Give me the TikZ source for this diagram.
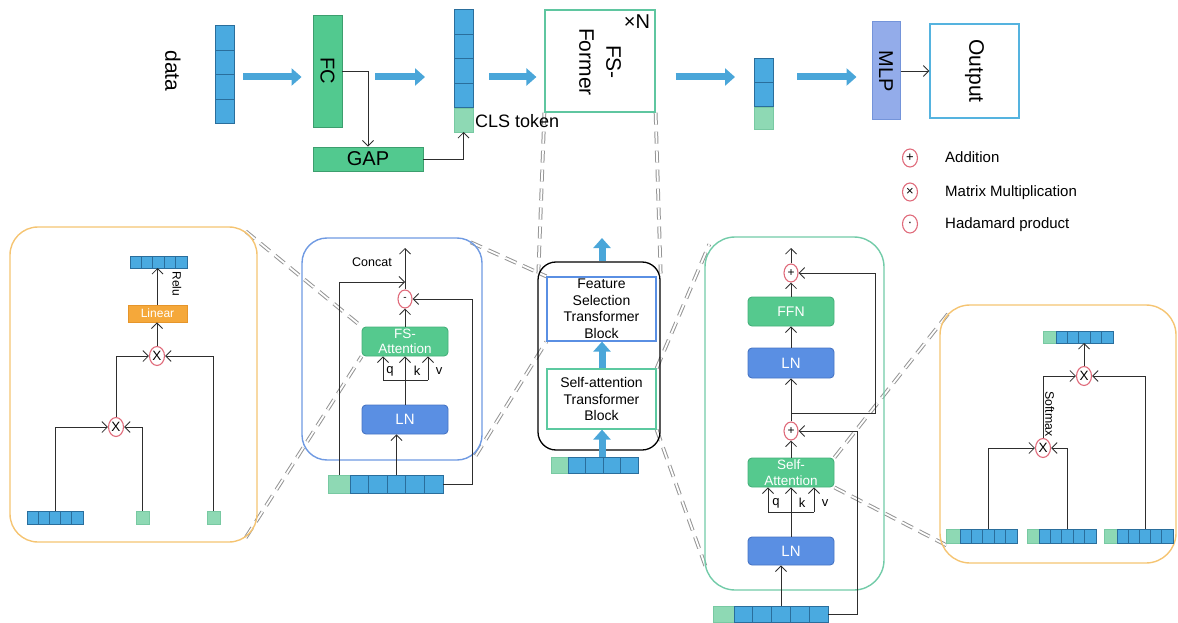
\documentclass[tikz,border=0pt]{standalone}
\usepackage{fontspec}
\setmainfont{Liberation Sans}
\usetikzlibrary{arrows.meta,shapes.geometric,backgrounds}

\definecolor{vecfill}{HTML}{4AAAE0}
\definecolor{vecline}{HTML}{2A6E9C}
\definecolor{tokfill}{HTML}{8ED9B4}
\definecolor{tokline}{HTML}{78C9A2}
\definecolor{fcfill}{HTML}{52C98F}
\definecolor{fcline}{HTML}{3C9E6E}
\definecolor{gfill}{HTML}{55C98E}
\definecolor{gline}{HTML}{44B07A}
\definecolor{lnfill}{HTML}{5A8FE3}
\definecolor{lnline}{HTML}{4774C4}
\definecolor{arrowblue}{HTML}{4AA6D9}
\definecolor{circc}{HTML}{E06B7B}
\definecolor{orangec}{HTML}{F5C472}
\definecolor{linfill}{HTML}{F5A83A}
\definecolor{linline}{HTML}{E6952A}
\definecolor{mlpfill}{HTML}{93ACEA}
\definecolor{mlpline}{HTML}{7494DA}
\definecolor{outc}{HTML}{55B3DF}
\definecolor{fsfc}{HTML}{5FC6A0}
\definecolor{fstc}{HTML}{5A8FE3}
\definecolor{satc}{HTML}{5CC9A0}
\definecolor{gpanelc}{HTML}{72CBA8}
\definecolor{bpanelc}{HTML}{6F9AE2}
\definecolor{linec}{HTML}{2E2E2E}
\definecolor{zoomgray}{HTML}{959595}

\newcommand\setfs[2]{\fontsize{#1}{#2}\selectfont}

% horizontal row of cells: name, x0, y0, x1, y1, number of cells
\newcommand\hcells[6]{%
  \node[vecbox, minimum width={#4-#2}, minimum height={#5-#3}] (#1) at ({(#2+#4)/2},{(#3+#5)/2}) {};
  \pgfmathsetmacro\cellw{(#4-#2)/#6}
  \foreach \i in {2,...,#6}{\draw[vecdiv] ({#2+(\i-1)*\cellw},#3) -- ({#2+(\i-1)*\cellw},#5);}
}
% vertical column of cells
\newcommand\vcells[6]{%
  \node[vecbox, minimum width={#4-#2}, minimum height={#5-#3}] (#1) at ({(#2+#4)/2},{(#3+#5)/2}) {};
  \pgfmathsetmacro\cellh{(#5-#3)/#6}
  \foreach \i in {2,...,#6}{\draw[vecdiv] (#2,{#3+(\i-1)*\cellh}) -- (#4,{#3+(\i-1)*\cellh});}
}

\tikzset{
  vecbox/.style={rectangle, draw=vecline, fill=vecfill, line width=1pt, inner sep=0pt, outer sep=0pt},
  vecdiv/.style={draw=vecline, line width=1pt},
  tokb/.style={rectangle, draw=tokline, fill=tokfill, line width=0.7pt, inner sep=0pt, outer sep=0pt},
  conn/.style={draw=linec, line width=0.85pt},
  arr/.style={conn, -{Straight Barb[length=5.5pt,width=11pt]}},
  fat/.style={draw=arrowblue, line width=7pt, -{Triangle[length=10pt,width=17pt]}},
  zoomline/.style={draw=zoomgray, double=white, double distance=1.8pt, line width=1pt, dash pattern=on 12pt off 7pt},
  panel/.style={rectangle, line width=1.4pt, inner sep=0pt},
  rot/.style={rotate=-90, inner sep=0pt},
  gbox/.style={rectangle, rounded corners=4pt, draw=gline, fill=gfill, line width=0.9pt, inner sep=0pt, text=white},
  lnbox/.style={rectangle, rounded corners=4pt, draw=lnline, fill=lnfill, line width=0.9pt, inner sep=0pt, text=white, font=\setfs{15}{17}},
  xcirc/.style={ellipse, draw=circc, fill=white, line width=1.1pt, minimum width=15pt, minimum height=19pt, inner sep=0pt, font=\setfs{13.5}{14}},
  pcirc/.style={ellipse, draw=circc, fill=white, line width=1.1pt, minimum width=14pt, minimum height=18pt, inner sep=0pt, font=\setfs{12}{13}},
  lbl/.style={inner sep=0pt},
}

\begin{document}
\begin{tikzpicture}[x=1pt, y=-1pt]
\useasboundingbox (0,0) rectangle (1178,623);

% ---------------- top row ----------------
\coordinate (row) at (0,77);
\node[rot, font=\setfs{21}{25}] (datalbl) at (173,71) {data};
\vcells{datavec}{215}{26}{234}{124}{4}

\node[rectangle, draw=fcline, fill=fcfill, line width=0.9pt, minimum width=29, minimum height=112, inner sep=0pt] (fc) at (327.5,71) {};
\node[rot, font=\setfs{20}{24}] (fclbl) at (fc) {FC};
\node[rectangle, draw=fcline, fill=fcfill, line width=0.9pt, minimum width=110, minimum height=24, inner sep=0pt, font=\setfs{20}{24}] (gap) at (368,159) {GAP};

\vcells{tokvec}{454}{10}{473}{108}{4}
\node[tokb, minimum width=19, minimum height=24] (cls) at (463.5,120) {};
\node[lbl, anchor=west, font=\setfs{18}{22}] (clslbl) at (475,121) {CLS token};

\node[rectangle, draw=fsfc, line width=1.2pt, minimum width=110, minimum height=102, inner sep=0pt] (fsf) at (600,61) {};
\node[rot, align=center, font=\setfs{21}{27}] (fsflbl) at (600,62) {FS-\\Former};
\node[lbl, font=\setfs{20}{22}] (nlbl) at (637,22) {×N};

\vcells{outvec}{754}{59}{773}{107}{2}
\node[tokb, minimum width=19, minimum height=22] (outcls) at (763.5,118) {};

\node[rectangle, draw=mlpline, fill=mlpfill, line width=1pt, minimum width=28, minimum height=98, inner sep=0pt] (mlp) at (886,71) {};
\node[rot, font=\setfs{20}{24}] (mlplbl) at (mlp) {MLP};
\node[rectangle, draw=outc, line width=1.2pt, minimum width=89, minimum height=94, inner sep=0pt] (out) at (974.5,71) {};
\node[rot, font=\setfs{21}{25}] (outlbl) at (out) {Output};

\draw[fat, shorten <=9pt, shorten >=11pt] (datavec.east |- row) -- (fc.west |- row);
\draw[fat, shorten <=33pt, shorten >=29pt] (fc.east |- row) -- (tokvec.west |- row);
\draw[fat, shorten <=16pt, shorten >=8pt] (tokvec.east |- row) -- (fsf.west |- row);
\draw[fat, shorten <=20pt, shorten >=19pt] (fsf.east |- row) -- (outvec.west |- row);
\draw[fat, shorten <=24pt, shorten >=15pt] (outvec.east |- row) -- (mlp.west |- row);

\draw[arr] (fc.east) -| (gap.north);
\draw[arr] (gap.east) -| (cls.south);
\draw[arr] (mlp.east) -- (out.west);

% ---------------- legend ----------------
\node[pcirc, minimum width=15pt, minimum height=18pt, font=\setfs{13}{14}] (leg1) at (910,158) {+};
\node[pcirc, minimum width=15pt, minimum height=18pt, font=\setfs{13}{14}] (leg2) at (910,192) {×};
\node[pcirc, minimum width=15pt, minimum height=18pt, font=\setfs{13}{14}] (leg3) at (910,224) {·};
\node[lbl, anchor=west, font=\setfs{15}{17}] (leg1lbl) at (945,157) {Addition};
\node[lbl, anchor=west, font=\setfs{15}{17}] (leg2lbl) at (945,193) {Matrix Multiplication};
\node[lbl, anchor=west, font=\setfs{15}{17}] (leg3lbl) at (945,225) {Hadamard product};

% ---------------- feature selection detail ----------------
\node[panel, draw=orangec, rounded corners=28pt, minimum width=247, minimum height=315] (lpanel) at (133.5,384.5) {};
\hcells{ltop}{130}{256}{187}{268}{5}
\node[rot, font=\setfs{12}{14}] (relu) at (177,284) {Relu};
\node[rectangle, draw=linline, fill=linfill, line width=0.8pt, minimum width=59, minimum height=17, inner sep=0pt, text=white, font=\setfs{12}{14}] (linear) at (157.5,313.5) {Linear};
\node[xcirc] (lx1) at (157,356) {X};
\node[xcirc] (lx2) at (116,427) {X};
\hcells{lbvec}{27}{511}{83}{524}{5}
\node[tokb, minimum size=13] (lg1) at (142.5,517.5) {};
\node[tokb, minimum size=13] (lg2) at (213.5,517.5) {};

\draw[arr] (linear.north) -- (linear.north |- ltop.south);
\draw[arr] (lx1.north) -- (lx1.north |- linear.south);
\draw[arr] (lx2.north) |- (lx1.west);
\draw[arr] (lg2.north) |- (lx1.east);
\draw[arr] (lbvec.north) |- (lx2.west);
\draw[arr] (lg1.north) |- (lx2.east);

% ---------------- FS transformer block ----------------
\node[panel, draw=bpanelc, rounded corners=25pt, minimum width=180, minimum height=222] (bpanel) at (392,349) {};
\node[lbl, font=\setfs{12.5}{15}] (concat) at (372,262) {Concat};
\node[pcirc, font=\setfs{10}{11}] (hcirc) at (405,299) {-};
\node[gbox, minimum width=86, minimum height=29] (fsatt) at (405,341.5) {};
\node[lbl, align=center, text=white, font=\setfs{13.5}{15}] (fsattlbl) at (fsatt) {FS-\\Attention};
\node[lnbox, minimum width=86, minimum height=29] (ln1) at (405,419.5) {LN};
\node[tokb, minimum width=22, minimum height=18] (bcls) at (339,484) {};
\hcells{bvec}{350}{475}{443}{493}{5}

\coordinate (bout) at (405,248);
\coordinate (bjoin) at (405,282);
\coordinate (bqkv) at (405,380);
\coordinate (bq) at (383,380);
\coordinate (bv) at (428,380);
\draw[arr] (hcirc.north) -- (bout);
\draw[arr] (bcls.north) |- (bjoin);
\draw[arr] (bvec.east) -- ++(29,0) |- (hcirc.east);
\draw[arr] (fsatt.north) -- (hcirc.south);
\draw[conn] (ln1.north) -- (bqkv);
\draw[conn] (bq) -- (bv);
\draw[arr] (bq) -- (bq |- fsatt.south);
\draw[arr] (bqkv) -- (fsatt.south);
\draw[arr] (bv) -- (bv |- fsatt.south);
\node[lbl, font=\setfs{13}{15}] (bqlbl) at (390,371) {q};
\node[lbl, font=\setfs{13}{15}] (bklbl) at (417,371) {k};
\node[lbl, font=\setfs{13}{15}] (bvlbl) at (439,371) {v};
\draw[arr] (bvec.north) -- (bvec.north |- ln1.south);

% ---------------- encoder layer ----------------
\node[rectangle, draw=black, line width=1.3pt, rounded corners=18pt, minimum width=122, minimum height=188, inner sep=0pt] (blk) at (599,356) {};
\node[rectangle, draw=fstc, line width=1.2pt, minimum width=109, minimum height=64, inner sep=0pt] (fst) at (601.5,309) {};
\node[lbl, align=center, font=\setfs{14}{16.5}] (fstlbl) at (fst) {Feature\\Selection\\Transformer\\Block};
\node[rectangle, draw=satc, line width=1.2pt, minimum width=109, minimum height=60, inner sep=0pt] (sat) at (601.5,399) {};
\node[lbl, align=center, font=\setfs{14}{16.5}] (satlbl) at (sat) {Self-attention\\Transformer\\Block};
\node[tokb, minimum width=17, minimum height=16] (ccls) at (559.5,465) {};
\hcells{cvec}{568}{457}{638}{473}{4}

\coordinate (ctop) at (602,238);
\draw[fat] (blk.north -| ctop) -- (ctop);
\draw[fat] (sat.north -| ctop) -- (fst.south -| ctop);
\draw[fat] (cvec.north -| ctop) -- (sat.south -| ctop);

% ---------------- self-attention block ----------------
\node[panel, draw=gpanelc, rounded corners=30pt, minimum width=179, minimum height=353] (gpanel) at (794.5,413.5) {};
\coordinate (gout) at (791,248);
\node[pcirc] (gadd2) at (791,273) {+};
\node[gbox, minimum width=86, minimum height=29, font=\setfs{14}{16}] (ffn) at (791,311.5) {FFN};
\node[lnbox, minimum width=86, minimum height=30] (gln2) at (791,363) {LN};
\node[pcirc] (gadd1) at (791,431) {+};
\node[gbox, minimum width=86, minimum height=29] (gsa) at (791,472.5) {};
\node[lbl, align=center, text=white, font=\setfs{13.5}{15.5}] (gsalbl) at (gsa) {Self-\\Attention};
\node[lnbox, minimum width=86, minimum height=28] (gln1) at (791,551) {LN};
\node[tokb, minimum width=21, minimum height=16] (gcls) at (723.5,614) {};
\hcells{gvec}{734}{606}{828}{622}{5}

\coordinate (gsplit) at (791,413);
\coordinate (gqkv) at (791,512);
\coordinate (gq) at (768,512);
\coordinate (gv) at (814,512);
\draw[arr] (gadd2.north) -- (gout);
\draw[arr] (ffn.north) -- (gadd2.south);
\draw[arr] (gln2.north) -- (ffn.south);
\draw[arr] (gadd1.north) -- (gln2.south);
\draw[arr] (gsplit) -- ++(84,0) |- (gadd2.east);
\draw[arr] (gvec.east) -- ++(29,0) |- (gadd1.east);
\draw[arr] (gsa.north) -- (gadd1.south);
\draw[conn] (gln1.north) -- (gqkv);
\draw[conn] (gq) -- (gv);
\draw[arr] (gq) -- (gq |- gsa.south);
\draw[arr] (gqkv) -- (gsa.south);
\draw[arr] (gv) -- (gv |- gsa.south);
\node[lbl, font=\setfs{13}{15}] (gqlbl) at (776,503) {q};
\node[lbl, font=\setfs{13}{15}] (gklbl) at (802,503) {k};
\node[lbl, font=\setfs{13}{15}] (gvlbl) at (825,503) {v};
\draw[arr] (gvec.north) -- (gvec.north |- gln1.south);

% ---------------- attention detail ----------------
\node[panel, draw=orangec, rounded corners=30pt, minimum width=236, minimum height=258] (rpanel) at (1058,434) {};
\node[tokb, minimum width=13, minimum height=12] (rtcls) at (1049.5,337) {};
\hcells{rtop}{1056}{331}{1113}{343}{5}
\node[xcirc] (rx1) at (1084,376) {X};
\node[xcirc] (rx2) at (1043,448) {X};
\node[rot, anchor=south, font=\setfs{12.3}{14}] (softmax) at (1045,414) {Softmax};
\node[tokb, minimum width=14, minimum height=14] (rv1c) at (953,536) {};
\hcells{rv1}{960}{529}{1017}{543}{5}
\node[tokb, minimum width=12, minimum height=14] (rv2c) at (1033,536) {};
\hcells{rv2}{1039}{529}{1096}{543}{5}
\node[tokb, minimum width=13, minimum height=14] (rv3c) at (1110.5,536) {};
\hcells{rv3}{1117}{529}{1173}{543}{5}

\draw[arr] (rx1.north) -- (rx1.north |- rtop.south);
\draw[arr] (rx2.north) |- (rx1.west);
\draw[arr] (rv3.north) |- (rx1.east);
\draw[arr] (rv1.north) |- (rx2.west);
\draw[arr] (rv2.north) |- (rx2.east);

% ---------------- zoom guide lines ----------------
\begin{pgfonlayer}{background}
\draw[zoomline] (fsf.south west) -- ([xshift=1pt,yshift=-12pt]blk.north west);
\draw[zoomline] (fsf.south east) -- ([yshift=-12pt]blk.north east);
\draw[zoomline] ([xshift=-12pt,yshift=-5pt]bpanel.north east) -- (fst.north west);
\draw[zoomline] ([xshift=-7pt,yshift=5pt]bpanel.south east) -- (fst.south west);
\draw[zoomline] ([xshift=-12pt,yshift=-5pt]lpanel.north east) -- (fsatt.north west);
\draw[zoomline] ([xshift=-12pt,yshift=5pt]lpanel.south east) -- (fsatt.south west);
\draw[zoomline] (sat.north east) -- ([xshift=5pt,yshift=-8pt]gpanel.north west);
\draw[zoomline] (sat.south east) -- ([xshift=1pt,yshift=25pt]gpanel.south west);
\draw[zoomline] (gsa.north east) -- ([xshift=10pt,yshift=-8pt]rpanel.north west);
\draw[zoomline] (gsa.south east) -- ([xshift=8pt,yshift=18pt]rpanel.south west);
\end{pgfonlayer}
\end{tikzpicture}
\end{document}
